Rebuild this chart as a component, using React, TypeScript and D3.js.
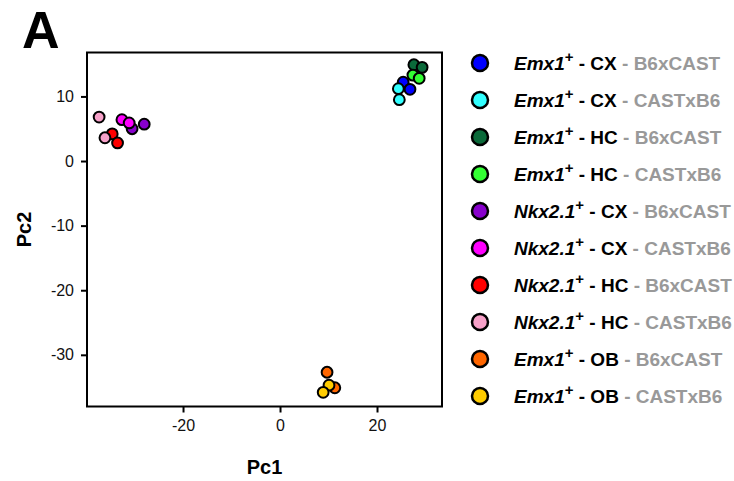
import React, { useEffect, useRef } from "react";
import * as d3 from "d3";

const groupGene = ["Emx1", "Emx1", "Emx1", "Emx1", "Nkx2.1", "Nkx2.1", "Nkx2.1", "Nkx2.1", "Emx1", "Emx1"];
const groupRegion = ["CX", "CX", "HC", "HC", "CX", "CX", "HC", "HC", "OB", "OB"];
const groupCross = ["B6xCAST", "CASTxB6", "B6xCAST", "CASTxB6", "B6xCAST", "CASTxB6", "B6xCAST", "CASTxB6", "B6xCAST", "CASTxB6"];
const groupColor = ["#0000ff", "#33ffff", "#0b6a3a", "#33ff33", "#8800cc", "#ff00ff", "#ff0000", "#f7a1c9", "#ff6600", "#ffcc00"];

// PC values per group (two replicates each)
const pc1Values = [
  [25.4, 26.8],
  [24.4, 24.6],
  [27.6, 29.3],
  [27.4, 28.7],
  [-30.5, -28.0],
  [-32.6, -31.1],
  [-34.6, -33.5],
  [-37.3, -36.1],
  [9.7, 11.3],
  [10.1, 8.9],
];
const pc2Values = [
  [12.2, 11.1],
  [11.2, 9.5],
  [14.9, 14.5],
  [13.3, 12.8],
  [5.0, 5.7],
  [6.4, 5.9],
  [4.2, 2.8],
  [6.8, 3.6],
  [-32.7, -35.1],
  [-34.7, -35.8],
];

const xTicks = [-20, 0, 20];
const yTicks = [10, 0, -10, -20, -30];
const xDomain = [-39.8, 33.4];
const yDomain = [-38.0, 16.8];

export default function App() {
  const ref = useRef<SVGSVGElement>(null);

  useEffect(() => {
    const svg = d3.select(ref.current);
    svg.selectAll("*").remove();
    const W = 734, H = 481;
    const left = 87, right = 442, top = 52.5, bottom = 406.5;
    const font = "'Liberation Sans', Arial, sans-serif";

    const x = d3.scaleLinear().domain(xDomain).range([left, right]);
    const y = d3.scaleLinear().domain(yDomain).range([bottom, top]);

    svg.append("rect").attr("width", W).attr("height", H).attr("fill", "#fff");

    // Panel letter
    svg.append("text").attr("x", 22).attr("y", 48).attr("font-family", font)
      .attr("font-weight", "bold").attr("font-size", 52).attr("fill", "#000").text("A");

    const fmt = (d: any) => String(d);
    // axes
    const xAxis = svg.append("g").attr("transform", `translate(0,${bottom})`)
      .call(d3.axisBottom(x).tickValues(xTicks).tickFormat(fmt).tickSize(6).tickPadding(7).tickSizeOuter(0));
    const yAxis = svg.append("g").attr("transform", `translate(${left},0)`)
      .call(d3.axisLeft(y).tickValues(yTicks).tickFormat(fmt).tickSize(6).tickPadding(7).tickSizeOuter(0));
    [xAxis, yAxis].forEach((g) => {
      g.select(".domain").remove();
      g.selectAll("line").attr("stroke", "#000").attr("stroke-width", 2);
      g.selectAll("text").attr("font-family", font).attr("font-size", 16).attr("fill", "#111");
    });

    // frame
    svg.append("rect").attr("x", left).attr("y", top).attr("width", right - left)
      .attr("height", bottom - top).attr("fill", "none").attr("stroke", "#000").attr("stroke-width", 2);

    // axis titles
    svg.append("text").attr("x", (left + right) / 2).attr("y", 474).attr("text-anchor", "middle")
      .attr("font-family", font).attr("font-weight", "bold").attr("font-size", 20).text("Pc1");
    svg.append("text").attr("transform", `translate(31,${(top + bottom) / 2}) rotate(-90)`)
      .attr("text-anchor", "middle").attr("font-family", font).attr("font-weight", "bold")
      .attr("font-size", 20).text("Pc2");

    // points
    const pts: { x: number; y: number; c: string }[] = [];
    pc1Values.forEach((arr, gi) => arr.forEach((v, i) => pts.push({ x: v, y: pc2Values[gi][i], c: groupColor[gi] })));
    svg.append("g").selectAll("circle").data(pts).join("circle")
      .attr("cx", (d) => x(d.x)).attr("cy", (d) => y(d.y)).attr("r", 5.4)
      .attr("fill", (d) => d.c).attr("stroke", "#000").attr("stroke-width", 2);

    // legend
    const lg = svg.append("g");
    groupColor.forEach((c, i) => {
      const cy = 63 + i * 37;
      lg.append("circle").attr("cx", 480).attr("cy", cy).attr("r", 8).attr("fill", c)
        .attr("stroke", "#000").attr("stroke-width", 2.5);
      const t = lg.append("text").attr("x", 514).attr("y", cy + 7).attr("font-family", font)
        .attr("font-weight", "bold").attr("font-size", 19);
      t.append("tspan").attr("font-style", "italic").attr("fill", "#000").text(groupGene[i]);
      t.append("tspan").attr("fill", "#000").attr("font-size", 15).attr("dy", -8).text("+");
      t.append("tspan").attr("fill", "#000").attr("dy", 8).text(` - ${groupRegion[i]}`);
      t.append("tspan").attr("fill", "#999").text(` - ${groupCross[i]}`);
    });
  }, []);

  return (
    <svg ref={ref} width={734} height={481} style={{ position: "absolute", left: 0, top: 0 }} />
  );
}
